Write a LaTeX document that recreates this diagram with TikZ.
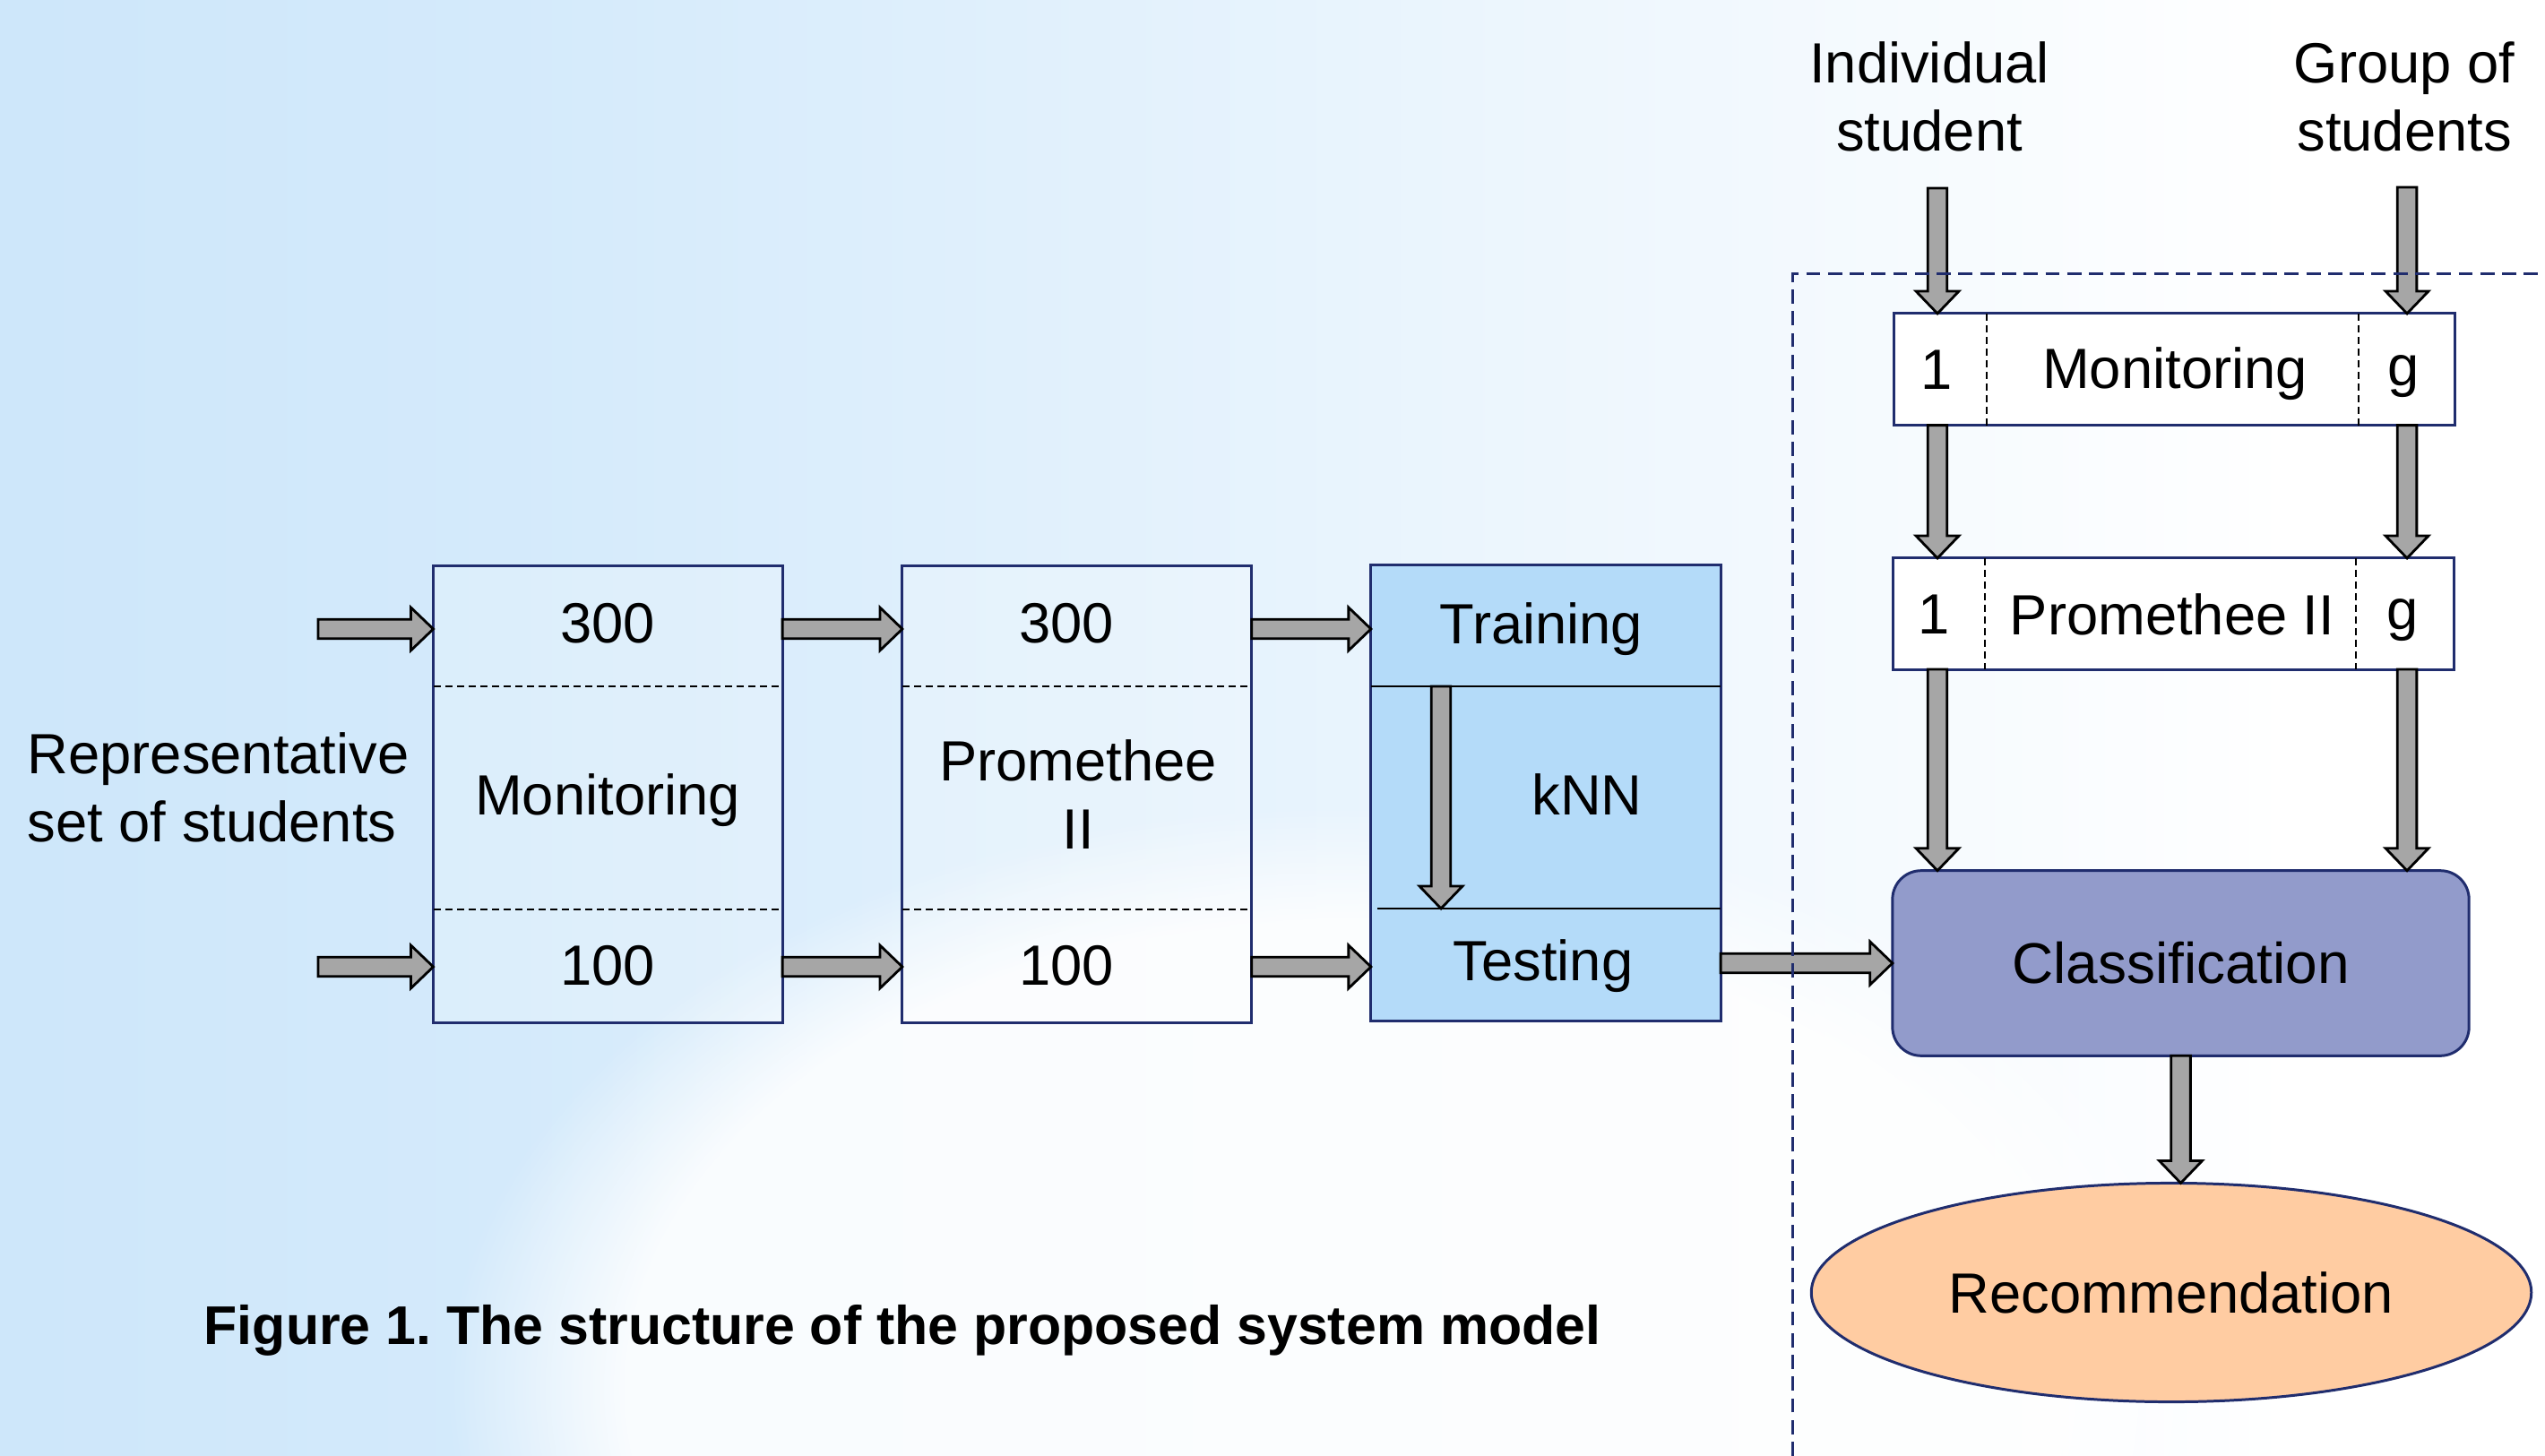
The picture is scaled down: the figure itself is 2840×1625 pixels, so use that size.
\documentclass[tikz,border=0pt]{standalone}
\usepackage{fontspec}
\setmainfont{Liberation Sans}
\usetikzlibrary{calc,shapes.geometric,fadings}
\definecolor{navy}{RGB}{32,45,110}
\definecolor{knnblue}{RGB}{180,219,249}
\definecolor{clsblue}{RGB}{146,155,203}
\definecolor{recpeach}{RGB}{255,204,162}
\definecolor{arrgray}{RGB}{166,166,166}
\definecolor{bgA}{RGB}{190,222,247}
\definecolor{bgB}{RGB}{212,234,251}
\pgfdeclarehorizontalshading{bgshade}{100bp}{color(0bp)=(bgA); color(35bp)=(bgB); color(70bp)=(white); color(100bp)=(white)}
\newcommand\bsw{0.108cm}
\newcommand\bhw{0.24cm}
\newcommand\bhl{0.25cm}
\newcommand\harrow[2]{\draw[blockarrow] let \p1=(#1), \p2=(#2) in
 (\x1,\y1+\bsw) -- (\x2-\bhl,\y1+\bsw) -- (\x2-\bhl,\y1+\bhw) -- (\x2,\y1) -- (\x2-\bhl,\y1-\bhw) -- (\x2-\bhl,\y1-\bsw) -- (\x1,\y1-\bsw) -- cycle;}
\newcommand\varrow[2]{\draw[blockarrow] let \p1=(#1), \p2=(#2) in
 (\x1+\bsw,\y1) -- (\x1+\bsw,\y2+\bhl) -- (\x1+\bhw,\y2+\bhl) -- (\x1,\y2) -- (\x1-\bhw,\y2+\bhl) -- (\x1-\bsw,\y2+\bhl) -- (\x1-\bsw,\y1) -- cycle;}
\tikzset{
  box/.style={draw=navy, line width=0.85pt, inner sep=0pt, outer sep=0pt},
  txt/.style={font=\fontsize{18}{21.6}\selectfont, inner sep=0pt, align=center},
  sect/.style={draw=black, line width=0.45pt, dash pattern=on 2.3pt off 1.4pt},
  solidsect/.style={draw=black, line width=0.6pt},
  blockarrow/.style={draw=black, fill=arrgray, line width=0.8pt, line join=miter},
  bound/.style={draw=navy, line width=0.85pt, dash pattern=on 4.5pt off 2.4pt},
}
\frenchspacing
\begin{document}
\begin{tikzpicture}[x=0.01cm,y=-0.01cm]
\useasboundingbox (0,0) rectangle (2840,1625);
\shade[shading=bgshade] (0,0) rectangle (2840,1625);
\begin{scope}
\clip (0,0) rectangle (2840,1625);
\fill[white, opacity=0.85, path fading=circle with fuzzy edge 20 percent] (1500,1550) ellipse [x radius=1000, y radius=650];
\end{scope}

% row coordinates
\coordinate (rowA) at (0,702);
\coordinate (rowB) at (0,1079);
\coordinate (inA) at (355,702);
\coordinate (inB) at (355,1079);

% left boxes
\node[box, fill=white, fill opacity=0.2, minimum width=3.894cm, minimum height=5.09cm] (m) at (678.3,886.5) {};
\node[box, fill=white, fill opacity=0.2, minimum width=3.895cm, minimum height=5.09cm] (p) at (1201.8,886.5) {};
\node[box, fill=knnblue, minimum width=3.9cm, minimum height=5.08cm] (k) at (1725,885) {};

\draw[sect] (484,766) -- (873,766);
\draw[sect] (484,1015) -- (873,1015);
\draw[sect] (1007,766) -- (1396,766);
\draw[sect] (1007,1015) -- (1396,1015);
\draw[solidsect] (1530,766) -- (1920,766);
\draw[solidsect] (1537,1014) -- (1920,1014);

\node[txt] (m300) at (678,696) {300};
\node[txt] (mmon) at (678,893) {Monitoring};
\node[txt] (m100) at (678,1078) {100};
\node[txt] (p300) at (1190,696) {300};
\node[txt] (pprom) at (1203,887) {Promethee\\II};
\node[txt] (p100) at (1190,1078) {100};
\node[txt] (ktrain) at (1720,702) {Training};
\node[txt] (kknn) at (1771,887) {kNN};
\node[txt] (ktest) at (1722,1078) {Testing};

\node[txt, anchor=west, align=left] (rep) at (30,879) {Representative\\set of students};

% right side
\node[txt] (ind) at (2153,108) {Individual\\student};
\node[txt] (grp) at (2683,108) {Group of\\students};
\coordinate (indtop) at (2162,210);
\coordinate (grptop) at (2686,209);

\node[box, fill=white, minimum width=6.255cm, minimum height=1.246cm] (rm) at (2426.8,412.3) {};
\node[box, fill=white, minimum width=6.25cm, minimum height=1.24cm] (rp) at (2425.5,685) {};
\draw[sect] (2217,350) -- (2217,474.6);
\draw[sect] (2632,350) -- (2632,474.6);
\draw[sect] (2215,623) -- (2215,747);
\draw[sect] (2629,623) -- (2629,747);
\node[txt] (rm1) at (2161,413) {1};
\node[txt] (rmt) at (2427,417) {Monitoring};
\node[txt] (rmg) at (2682,420) {g};
\node[txt] (rp1) at (2158,686) {1};
\node[txt] (rpt) at (2424,686) {Promethee II};
\node[txt] (rpg) at (2681,692) {g};

\node[box, fill=clsblue, rounded corners=0.32cm, minimum width=6.43cm, minimum height=2.065cm,
      font=\fontsize{18.2}{22}\selectfont] (cls) at (2433.5,1075) {Classification};
\node[box, ellipse, fill=recpeach, minimum width=8.03cm, minimum height=2.44cm,
      font=\fontsize{18}{21.6}\selectfont] (rec) at (2423,1442.5) {Recommendation};

% block arrows
\harrow{inA}{m.west |- rowA}
\harrow{inB}{m.west |- rowB}
\harrow{m.east |- rowA}{p.west |- rowA}
\harrow{m.east |- rowB}{p.west |- rowB}
\harrow{p.east |- rowA}{k.west |- rowA}
\harrow{p.east |- rowB}{k.west |- rowB}
\harrow{k.east |- cls.west}{cls.west}
\coordinate (ktop) at (1608,766);
\coordinate (kbot) at (1608,1014);
\varrow{ktop}{kbot}
\varrow{indtop}{rm.north -| indtop}
\varrow{grptop}{rm.north -| grptop}
\varrow{rm.south -| indtop}{rp.north -| indtop}
\varrow{rm.south -| grptop}{rp.north -| grptop}
\varrow{rp.south -| indtop}{cls.north -| indtop}
\varrow{rp.south -| grptop}{cls.north -| grptop}
\varrow{cls.south}{rec.north -| cls.south}

% boundary
\draw[bound] (2000,1625) -- (2000,306) -- (2840,306);

% caption
\node[inner sep=0pt, font=\fontsize{17.3}{21}\selectfont\bfseries] (cap) at (1007,1485) {Figure 1. The structure of the proposed system model};
\end{tikzpicture}
\end{document}
